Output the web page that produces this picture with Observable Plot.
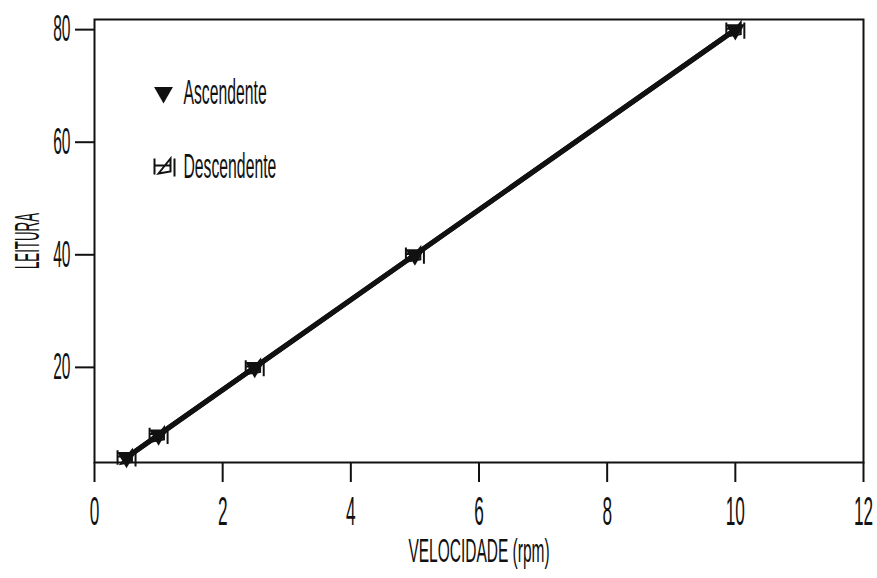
<!DOCTYPE html>
<html>
<head>
<meta charset="utf-8">
<script src="https://cdn.jsdelivr.net/npm/d3@7"></script>
<script src="https://cdn.jsdelivr.net/npm/@observablehq/plot@0.6"></script>
<style>
  html, body { margin: 0; padding: 0; background: #ffffff; }
  #chart { width: 877px; height: 578px; }
</style>
</head>
<body>
<div id="chart"></div>
<script>
// Data
const velocidade = [0.5, 1, 2.5, 5, 10];
const ascendente = [4, 8, 20, 40, 80];
const descendente = [4, 8, 20, 40, 80];
const xTicks = [0, 2, 4, 6, 8, 10, 12];
const yTicks = [20, 40, 60, 80];
const seriesNames = ["Ascendente", "Descendente"];
const xLabel = "VELOCIDADE (rpm)";
const yLabel = "LEITURA";

const asc = velocidade.map((v, i) => ({x: v, y: ascendente[i]}));
const desc = velocidade.map((v, i) => ({x: v, y: descendente[i]}));

// Custom "Descendente" symbol: bars with a left-pointing triangle
const descSymbol = {
  draw(ctx, size) {
    const r = Math.sqrt(size / Math.PI);
    const k = r / 10;
    ctx.moveTo(-10 * k, -8 * k); ctx.lineTo(-10 * k, 8 * k);
    ctx.moveTo(-10 * k, -1 * k); ctx.lineTo(5 * k, -1 * k);
    ctx.moveTo(-6 * k, 7 * k); ctx.lineTo(6 * k, -8 * k); ctx.lineTo(6 * k, 5 * k); ctx.closePath();
    ctx.moveTo(10 * k, -8 * k); ctx.lineTo(10 * k, 10 * k);
  }
};

const chart = Plot.plot({
  width: 877,
  height: 578,
  marginLeft: 94,
  marginRight: 14,
  marginTop: 19,
  marginBottom: 116,
  style: {fontFamily: "'Liberation Sans', 'DejaVu Sans', sans-serif", fontSize: "37px", background: "#ffffff", color: "#111"},
  x: {domain: [0, 12], ticks: xTicks, tickSize: 20, tickPadding: 13, label: null, tickFormat: d => String(d)},
  y: {domain: [3.1, 81.8], ticks: yTicks, tickSize: 19, tickPadding: 5, label: null, tickFormat: d => String(d)},
  marks: [
    Plot.frame({stroke: "#111", strokeWidth: 2}),
    Plot.line(asc, {x: "x", y: "y", stroke: "#111", strokeWidth: 5}),
    Plot.line(desc, {x: "x", y: "y", stroke: "#111", strokeWidth: 5}),
    Plot.dot(asc, {x: "x", y: "y", symbol: "triangle", rotate: 180, r: 7, fill: "#111", stroke: "none"}),
    Plot.dot(desc, {x: "x", y: "y", symbol: descSymbol, r: 9, fill: "none", stroke: "#111", strokeWidth: 2}),
    // legend
    Plot.dot([seriesNames[0]], {frameAnchor: "top-left", dx: 69, dy: 73, symbol: "triangle", rotate: 180, r: 7, fill: "#111", stroke: "none"}),
    Plot.text([seriesNames[0]], {text: d => d, frameAnchor: "top-left", dx: 89, dy: 73, textAnchor: "start", lineAnchor: "middle", fill: "#111", fontSize: 35}),
    Plot.dot([seriesNames[1]], {frameAnchor: "top-left", dx: 70, dy: 147, symbol: descSymbol, r: 10, fill: "none", stroke: "#111", strokeWidth: 2}),
    Plot.text([seriesNames[1]], {text: d => d, frameAnchor: "top-left", dx: 89, dy: 147, textAnchor: "start", lineAnchor: "middle", fill: "#111", fontSize: 35}),
    // axis titles
    Plot.text([xLabel], {text: d => d, frameAnchor: "bottom", dy: 89, textAnchor: "middle", lineAnchor: "middle", fill: "#111", fontSize: 33}),
    Plot.text([yLabel], {text: d => d, frameAnchor: "left", dx: -67, rotate: -90, textAnchor: "middle", lineAnchor: "middle", fill: "#111", fontSize: 36})
  ]
});

// Larger tick labels (tall plotter digits)
const xSet = new Set(xTicks.map(String));
const ySet = new Set(yTicks.map(String));
chart.querySelectorAll("text").forEach(t => {
  const s = t.textContent.trim();
  if (xSet.has(s)) t.style.fontSize = "41px";
  else if (ySet.has(s)) t.style.fontSize = "37px";
});

// Condense text horizontally around each text's own anchor (plotter-style narrow lettering)
const squeeze = {"LEITURA": 0.37, "VELOCIDADE (rpm)": 0.47, "Ascendente": 0.45, "Descendente": 0.45};
chart.querySelectorAll("text").forEach(t => {
  const sx = squeeze[t.textContent] ?? 0.42;
  let x = parseFloat(t.getAttribute("x"));
  if (!isFinite(x)) x = 0;
  const T = t.getAttribute("transform") || "";
  const extra = x ? `translate(${x},0) scale(${sx},1) translate(${-x},0)` : `scale(${sx},1)`;
  t.setAttribute("transform", (T ? T + " " : "") + extra);
});
chart.querySelectorAll('[aria-label*="tick"]').forEach(g => {
  if (/label/.test(g.getAttribute("aria-label"))) return;
  g.setAttribute("stroke-width", 2);
  g.querySelectorAll("path, line").forEach(p => p.setAttribute("stroke-width", 2));
});
document.getElementById("chart").appendChild(chart);
</script>
</body>
</html>
